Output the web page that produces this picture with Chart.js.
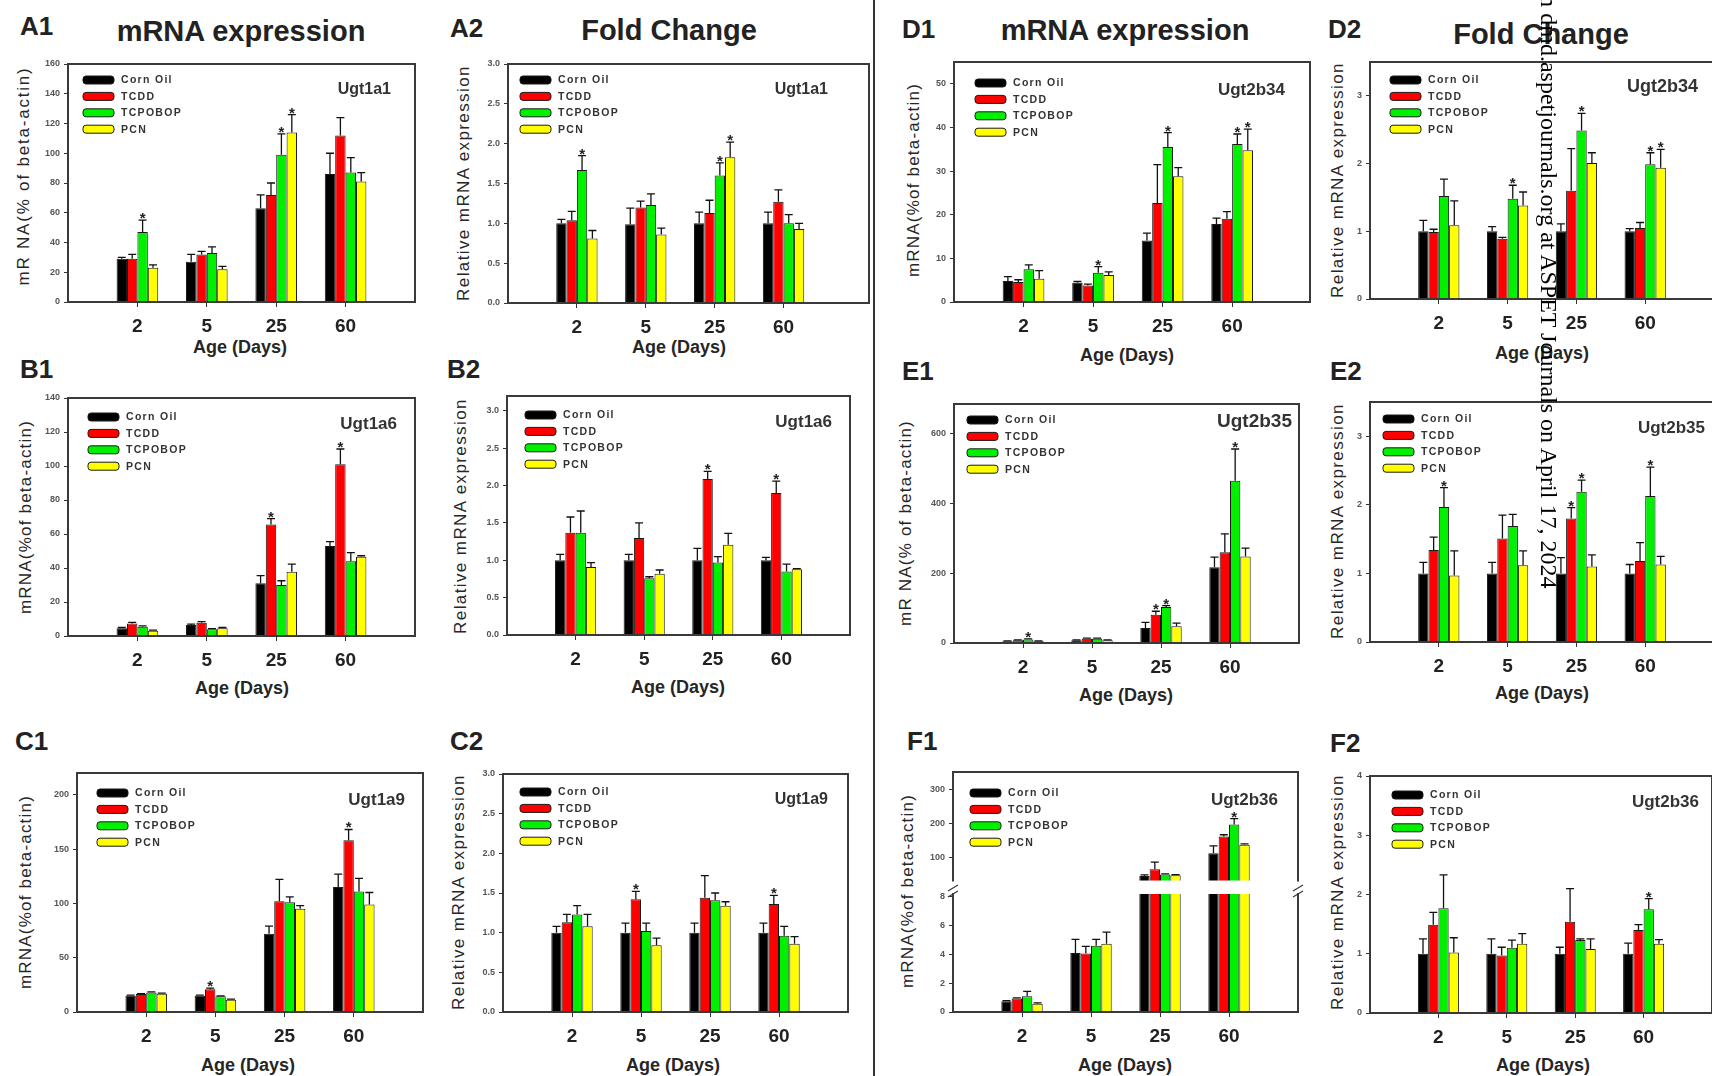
<!DOCTYPE html>
<html><head><meta charset="utf-8"><title>Ugt mRNA expression and fold change</title>
<script src="https://cdn.jsdelivr.net/npm/chart.js@4.4.1/dist/chart.umd.min.js"></script>
<style>
html,body{margin:0;padding:0;background:#fff;}
body{position:relative;width:1712px;height:1076px;overflow:hidden;font-family:"Liberation Sans",Arial,Helvetica,sans-serif;color:#222;}
canvas{position:absolute;}
.t{position:absolute;white-space:nowrap;line-height:1;}
.letter{font-weight:bold;font-size:26px;}
.head{font-weight:bold;font-size:29px;transform:translateX(-50%);}
.yt{font-size:17px;letter-spacing:1.2px;transform:translate(-50%,-50%) rotate(-90deg);color:#262626;}
.yf{letter-spacing:1.4px;}
.xt{font-weight:bold;font-size:18px;transform:translate(-50%,-50%);color:#262626;}
.sep{position:absolute;left:873px;top:0;width:2px;height:1076px;background:#333;}
.wm{position:absolute;left:1561px;top:-168px;font-family:"Liberation Serif","Times New Roman",serif;font-size:24px;line-height:24px;white-space:nowrap;transform-origin:0 0;transform:rotate(90deg);color:#000;z-index:5;}
</style></head><body>

<div class="t letter" style="left:20px;top:13px">A1</div>
<div class="t letter" style="left:450px;top:15px">A2</div>
<div class="t letter" style="left:902px;top:16px">D1</div>
<div class="t letter" style="left:1328px;top:16px">D2</div>
<div class="t letter" style="left:20px;top:356px">B1</div>
<div class="t letter" style="left:447px;top:356px">B2</div>
<div class="t letter" style="left:902px;top:358px">E1</div>
<div class="t letter" style="left:1330px;top:358px">E2</div>
<div class="t letter" style="left:15px;top:728px">C1</div>
<div class="t letter" style="left:450px;top:728px">C2</div>
<div class="t letter" style="left:907px;top:728px">F1</div>
<div class="t letter" style="left:1330px;top:730px">F2</div>

<div class="t head" style="left:241px;top:17px">mRNA expression</div>
<div class="t head" style="left:669px;top:16px">Fold Change</div>
<div class="t head" style="left:1125px;top:16px">mRNA expression</div>
<div class="t head" style="left:1541px;top:20px">Fold Change</div>

<div class="t yt" style="left:23px;top:176px;letter-spacing:1.8px">mR NA(% of beta-actin)</div>
<div class="t yt yf" style="left:463px;top:183px">Relative mRNA expression</div>
<div class="t yt" style="left:25px;top:517px">mRNA(%of beta-actin)</div>
<div class="t yt yf" style="left:460px;top:516px">Relative mRNA expression</div>
<div class="t yt" style="left:25px;top:892px">mRNA(%of beta-actin)</div>
<div class="t yt yf" style="left:458px;top:892px">Relative mRNA expression</div>
<div class="t yt" style="left:913px;top:180px">mRNA(%of beta-actin)</div>
<div class="t yt yf" style="left:1337px;top:180px">Relative mRNA expression</div>
<div class="t yt" style="left:905px;top:523px">mR NA(% of beta-actin)</div>
<div class="t yt yf" style="left:1337px;top:521px">Relative mRNA expression</div>
<div class="t yt" style="left:907px;top:891px">mRNA(%of beta-actin)</div>
<div class="t yt yf" style="left:1337px;top:892px">Relative mRNA expression</div>

<div class="t xt" style="left:240px;top:347px">Age (Days)</div>
<div class="t xt" style="left:679px;top:347px">Age (Days)</div>
<div class="t xt" style="left:1127px;top:355px">Age (Days)</div>
<div class="t xt" style="left:1542px;top:353px">Age (Days)</div>
<div class="t xt" style="left:242px;top:688px">Age (Days)</div>
<div class="t xt" style="left:678px;top:687px">Age (Days)</div>
<div class="t xt" style="left:1126px;top:695px">Age (Days)</div>
<div class="t xt" style="left:1542px;top:693px">Age (Days)</div>
<div class="t xt" style="left:248px;top:1065px">Age (Days)</div>
<div class="t xt" style="left:673px;top:1065px">Age (Days)</div>
<div class="t xt" style="left:1125px;top:1065px">Age (Days)</div>
<div class="t xt" style="left:1543px;top:1065px">Age (Days)</div>

<div class="sep"></div>
<div class="wm">Downloaded from dmd.aspetjournals.org at ASPET Journals on April 17, 2024</div>

<script>
// ---------- shared categories ----------
const AGES = ['2', '5', '25', '60'];
const TREATMENTS = ['Corn Oil', 'TCDD', 'TCPOBOP', 'PCN'];

// ---------- A1  Ugt1a1 mRNA (% of beta-actin) ----------
const A1_cornOil = [29, 27, 63, 86];
const A1_tcdd    = [29, 32, 72, 112];
const A1_tcpobop = [47, 33, 99, 87];
const A1_pcn     = [23, 22, 114, 81];
const A1_sem     = [[1, 5, 9, 14], [3, 2, 8, 12], [8, 4, 14, 10], [2, 2, 12, 6]];
const A1_stars   = [[2, 0], [2, 2], [3, 2]];
const A1_yTicks  = [0, 20, 40, 60, 80, 100, 120, 140, 160];

// ---------- A2  Ugt1a1 fold change ----------
const A2_cornOil = [1.0, 0.99, 1.0, 1.0];
const A2_tcdd    = [1.04, 1.2, 1.13, 1.27];
const A2_tcpobop = [1.67, 1.23, 1.6, 1.0];
const A2_pcn     = [0.81, 0.86, 1.83, 0.93];
const A2_sem     = [[0.05, 0.2, 0.14, 0.14], [0.11, 0.08, 0.16, 0.15], [0.18, 0.14, 0.16, 0.11], [0.1, 0.08, 0.19, 0.07]];
const A2_stars   = [[2, 0], [2, 2], [3, 2]];
const A2_yTicks  = [0, 0.5, 1.0, 1.5, 2.0, 2.5, 3.0];

// ---------- B1  Ugt1a6 mRNA ----------
const B1_cornOil = [4.5, 6.5, 31, 53];
const B1_tcdd    = [7.4, 7.8, 65.6, 101];
const B1_tcpobop = [5.5, 3.9, 30, 44];
const B1_pcn     = [3.1, 4.5, 37.8, 46.6];
const B1_sem     = [[0.5, 0.5, 4.5, 2.5], [0.6, 0.6, 3.4, 9], [0.5, 0.4, 2.5, 5], [0.4, 0.5, 4.5, 0.6]];
const B1_stars   = [[1, 2], [1, 3]];
const B1_yTicks  = [0, 20, 40, 60, 80, 100, 120, 140];

// ---------- B2  Ugt1a6 fold change ----------
const B2_cornOil = [1.0, 1.0, 1.0, 1.0];
const B2_tcdd    = [1.37, 1.3, 2.09, 1.9];
const B2_tcpobop = [1.37, 0.76, 0.97, 0.85];
const B2_pcn     = [0.91, 0.82, 1.21, 0.88];
const B2_sem     = [[0.08, 0.08, 0.16, 0.04], [0.21, 0.2, 0.1, 0.16], [0.29, 0.02, 0.08, 0.1], [0.06, 0.05, 0.15, 0.01]];
const B2_stars   = [[1, 2], [1, 3]];
const B2_yTicks  = [0, 0.5, 1.0, 1.5, 2.0, 2.5, 3.0];

// ---------- C1  Ugt1a9 mRNA ----------
const C1_cornOil = [15, 15, 72, 115];
const C1_tcdd    = [16.5, 21, 102, 158];
const C1_tcpobop = [18, 14.4, 101, 111];
const C1_pcn     = [16.8, 11.3, 95, 99];
const C1_sem     = [[0.5, 0.5, 7, 12], [0.5, 1, 20, 10], [0.5, 0.5, 5, 12], [0.5, 0.5, 3, 11]];
const C1_stars   = [[1, 1], [1, 3]];
const C1_yTicks  = [0, 50, 100, 150, 200];

// ---------- C2  Ugt1a9 fold change ----------
const C2_cornOil = [1.0, 1.0, 1.0, 1.0];
const C2_tcdd    = [1.13, 1.42, 1.44, 1.36];
const C2_tcpobop = [1.23, 1.02, 1.41, 0.96];
const C2_pcn     = [1.08, 0.84, 1.34, 0.86];
const C2_sem     = [[0.08, 0.12, 0.12, 0.12], [0.1, 0.1, 0.28, 0.11], [0.11, 0.1, 0.09, 0.12], [0.15, 0.09, 0.05, 0.09]];
const C2_stars   = [[1, 1], [1, 3]];
const C2_yTicks  = [0, 0.5, 1.0, 1.5, 2.0, 2.5, 3.0];

// ---------- D1  Ugt2b34 mRNA ----------
const D1_cornOil = [4.8, 4.4, 14.1, 17.9];
const D1_tcdd    = [4.6, 3.8, 22.7, 19.1];
const D1_tcpobop = [7.5, 6.7, 35.5, 36.2];
const D1_pcn     = [5.3, 6.2, 28.8, 34.8];
const D1_sem     = [[1, 0.3, 1.7, 1.3], [0.5, 0.3, 8.8, 1.6], [1, 1.4, 3.3, 2.3], [1.9, 0.7, 2, 4.8]];
const D1_stars   = [[2, 1], [2, 2], [2, 3], [3, 3]];
const D1_yTicks  = [0, 10, 20, 30, 40, 50];

// ---------- D2  Ugt2b34 fold change ----------
const D2_cornOil = [1.0, 1.0, 1.0, 1.0];
const D2_tcdd    = [0.99, 0.89, 1.6, 1.05];
const D2_tcpobop = [1.52, 1.48, 2.49, 1.99];
const D2_pcn     = [1.09, 1.38, 2.01, 1.94];
const D2_sem     = [[0.16, 0.07, 0.11, 0.04], [0.04, 0.02, 0.62, 0.08], [0.25, 0.2, 0.25, 0.17], [0.36, 0.2, 0.15, 0.27]];
const D2_stars   = [[2, 1], [2, 2], [2, 3], [3, 3]];
const D2_yTicks  = [0, 1, 2, 3];

// ---------- E1  Ugt2b35 mRNA ----------
const E1_cornOil = [5, 8, 43, 217];
const E1_tcdd    = [8, 12, 81, 260];
const E1_tcpobop = [10, 12, 103, 465];
const E1_pcn     = [5, 8, 48, 248];
const E1_sem     = [[1, 1, 16, 29], [1, 2, 10, 53], [2, 2, 4, 91], [1, 1, 9, 24]];
const E1_stars   = [[2, 0], [1, 2], [2, 2], [2, 3]];
const E1_yTicks  = [0, 200, 400, 600];

// ---------- E2  Ugt2b35 fold change ----------
const E2_cornOil = [1.0, 1.0, 1.0, 1.0];
const E2_tcdd    = [1.34, 1.51, 1.8, 1.18];
const E2_tcpobop = [1.97, 1.69, 2.19, 2.13];
const E2_pcn     = [0.97, 1.12, 1.1, 1.13];
const E2_sem     = [[0.16, 0.16, 0.23, 0.13], [0.19, 0.34, 0.16, 0.27], [0.28, 0.17, 0.17, 0.42], [0.36, 0.21, 0.17, 0.12]];
const E2_stars   = [[2, 0], [1, 2], [2, 2], [2, 3]];
const E2_yTicks  = [0, 1, 2, 3];

// ---------- F1  Ugt2b36 mRNA (broken axis) ----------
const F1_cornOil = [0.74, 4.1, 45, 112];
const F1_tcdd    = [0.93, 4.06, 65, 162];
const F1_tcpobop = [1.09, 4.6, 49, 197];
const F1_pcn     = [0.58, 4.75, 47, 137];
const F1_sem     = [[0.05, 0.95, 3, 22], [0.05, 0.5, 21, 5], [0.35, 0.45, 2, 18], [0.05, 0.8, 2, 3]];
const F1_stars   = [[2, 3]];
const F1_yTicksUpper = [100, 200, 300];
const F1_yTicksLower = [0, 2, 4, 6, 8];

// ---------- F2  Ugt2b36 fold change ----------
const F2_cornOil = [1.0, 1.0, 1.0, 1.0];
const F2_tcdd    = [1.49, 0.97, 1.54, 1.4];
const F2_tcpobop = [1.77, 1.1, 1.23, 1.75];
const F2_pcn     = [1.02, 1.17, 1.08, 1.17];
const F2_sem     = [[0.25, 0.25, 0.11, 0.18], [0.21, 0.14, 0.56, 0.09], [0.56, 0.13, 0.02, 0.18], [0.25, 0.17, 0.17, 0.07]];
const F2_stars   = [[2, 3]];
const F2_yTicks  = [0, 1, 2, 3, 4];

// ---------- styling / layout ----------
const FONT = '"Liberation Sans", Arial, Helvetica, sans-serif';
const COLORS = ['#000000', '#ff0000', '#00f000', '#ffff00'];
const YW = 46, PT = 14, PR = 6, XH = 44;

const PANELS = [
  {gene: 'Ugt1a1', series: [A1_cornOil, A1_tcdd, A1_tcpobop, A1_pcn], sem: A1_sem, stars: A1_stars, dec: 0,
   parts: [{box: [68, 64, 415, 302], yMin: 0, yMax: 160, yTicks: A1_yTicks}], xMax: 5, leg: [15, 16], geneOff: [24, 26, 16]},
  {gene: 'Ugt1a1', series: [A2_cornOil, A2_tcdd, A2_tcpobop, A2_pcn], sem: A2_sem, stars: A2_stars, dec: 1,
   parts: [{box: [508, 64, 869, 303], yMin: 0, yMax: 3.0, yTicks: A2_yTicks}], xMax: 5.24, leg: [12, 16], geneOff: [41, 26, 16]},
  {gene: 'Ugt1a6', series: [B1_cornOil, B1_tcdd, B1_tcpobop, B1_pcn], sem: B1_sem, stars: B1_stars, dec: 0,
   parts: [{box: [68, 398, 415, 636], yMin: 0, yMax: 140, yTicks: B1_yTicks}], xMax: 5, leg: [20, 19], geneOff: [18, 26, 17]},
  {gene: 'Ugt1a6', series: [B2_cornOil, B2_tcdd, B2_tcpobop, B2_pcn], sem: B2_sem, stars: B2_stars, dec: 1,
   parts: [{box: [507, 396, 850, 635], yMin: 0, yMax: 3.2, yTicks: B2_yTicks}], xMax: 5, leg: [18, 19], geneOff: [18, 26, 17]},
  {gene: 'Ugt1a9', series: [C1_cornOil, C1_tcdd, C1_tcpobop, C1_pcn], sem: C1_sem, stars: C1_stars, dec: 0,
   parts: [{box: [77, 773, 423, 1012], yMin: 0, yMax: 220, yTicks: C1_yTicks}], xMax: 5, leg: [20, 20], geneOff: [18, 27, 17]},
  {gene: 'Ugt1a9', series: [C2_cornOil, C2_tcdd, C2_tcpobop, C2_pcn], sem: C2_sem, stars: C2_stars, dec: 1,
   parts: [{box: [503, 774, 848, 1012], yMin: 0, yMax: 3.0, yTicks: C2_yTicks}], xMax: 5, leg: [17, 18], geneOff: [20, 26, 16]},
  {gene: 'Ugt2b34', series: [D1_cornOil, D1_tcdd, D1_tcpobop, D1_pcn], sem: D1_sem, stars: D1_stars, dec: 0,
   parts: [{box: [954, 62, 1310, 302], yMin: 0, yMax: 55, yTicks: D1_yTicks}], xMax: 5.12, leg: [21, 21], geneOff: [25, 28, 17]},
  {gene: 'Ugt2b34', series: [D2_cornOil, D2_tcdd, D2_tcpobop, D2_pcn], sem: D2_sem, stars: D2_stars, dec: 0,
   parts: [{box: [1370, 62, 1714, 299], yMin: 0, yMax: 3.5, yTicks: D2_yTicks}], xMax: 5, leg: [20, 18], geneOff: [16, 25, 18]},
  {gene: 'Ugt2b35', series: [E1_cornOil, E1_tcdd, E1_tcpobop, E1_pcn], sem: E1_sem, stars: E1_stars, dec: 0,
   parts: [{box: [954, 404, 1299, 643], yMin: 0, yMax: 685, yTicks: E1_yTicks}], xMax: 5, leg: [13, 16], geneOff: [7, 18, 19]},
  {gene: 'Ugt2b35', series: [E2_cornOil, E2_tcdd, E2_tcpobop, E2_pcn], sem: E2_sem, stars: E2_stars, dec: 0,
   parts: [{box: [1370, 402, 1714, 642], yMin: 0, yMax: 3.5, yTicks: E2_yTicks}], xMax: 5, leg: [13, 17], geneOff: [9, 26, 17]},
  {gene: 'Ugt2b36', series: [F1_cornOil, F1_tcdd, F1_tcpobop, F1_pcn], sem: F1_sem, stars: F1_stars, dec: 0,
   parts: [
     {box: [953, 772, 1298, 888], yMin: 31, yMax: 353, yTicks: F1_yTicksUpper, keepMin: 31, showX: false, sides: 'tlr'},
     {box: [953, 894, 1298, 1012], yMin: 0, yMax: 8.2, yTicks: F1_yTicksLower, noLegend: true, sides: 'blr', breakMarks: true, clip: 0}
   ], xMax: 5, leg: [17, 21], geneOff: [20, 28, 17]},
  {gene: 'Ugt2b36', series: [F2_cornOil, F2_tcdd, F2_tcpobop, F2_pcn], sem: F2_sem, stars: F2_stars, dec: 0,
   parts: [{box: [1370, 776, 1712, 1013], yMin: 0, yMax: 4, yTicks: F2_yTicks}], xMax: 5, leg: [22, 19], geneOff: [13, 26, 17]}
];

// ---------- plugins ----------
const framePlugin = {
  id: 'frame',
  afterDraw(chart, args, o) {
    const a = chart.chartArea, ctx = chart.ctx, s = o.sides || 'tlrb';
    ctx.save();
    ctx.strokeStyle = '#3a3a3a'; ctx.lineWidth = 2; ctx.lineCap = 'square';
    ctx.beginPath();
    if (s.includes('t')) { ctx.moveTo(a.left, a.top); ctx.lineTo(a.right, a.top); }
    if (s.includes('b')) { ctx.moveTo(a.left, a.bottom); ctx.lineTo(a.right, a.bottom); }
    if (s.includes('l')) { ctx.moveTo(a.left, a.top); ctx.lineTo(a.left, a.bottom); }
    if (s.includes('r')) { ctx.moveTo(a.right, a.top); ctx.lineTo(a.right, a.bottom); }
    ctx.stroke();
    if (o.breakMarks) {
      ctx.lineWidth = 1.3; ctx.lineCap = 'butt';
      [a.left, a.right].forEach(x => {
        ctx.beginPath();
        ctx.moveTo(x - 5, a.top + 3); ctx.lineTo(x + 5, a.top - 3);
        ctx.moveTo(x - 5, a.top - 3); ctx.lineTo(x + 5, a.top - 9);
        ctx.stroke();
      });
    }
    ctx.restore();
  }
};

const errPlugin = {
  id: 'errs',
  afterDatasetsDraw(chart) {
    const ctx = chart.ctx, ys = chart.scales.y;
    ctx.save();
    chart.data.datasets.forEach((ds, di) => {
      const meta = chart.getDatasetMeta(di);
      meta.data.forEach((bar, j) => {
        const v = ds.data[j].y;
        if (v == null || v + ds.err[j] > ys.max) return;
        const top = ys.getPixelForValue(v + ds.err[j]);
        ctx.strokeStyle = '#111'; ctx.lineWidth = 1.3;
        ctx.beginPath();
        ctx.moveTo(bar.x, bar.y); ctx.lineTo(bar.x, top);
        ctx.moveTo(bar.x - 4, top); ctx.lineTo(bar.x + 4, top);
        ctx.stroke();
        if (ds.sig[j]) {
          ctx.fillStyle = '#222';
          ctx.font = 'bold 15px ' + FONT;
          ctx.textAlign = 'center'; ctx.textBaseline = 'alphabetic';
          ctx.fillText('*', bar.x, top + 3);
        }
      });
    });
    ctx.restore();
  }
};

const legendPlugin = {
  id: 'insideLegend',
  afterDraw(chart, args, o) {
    if (!o.show) return;
    const ctx = chart.ctx, a = chart.chartArea;
    ctx.save();
    chart.data.datasets.forEach((ds, i) => {
      const x = a.left + o.dx, y = a.top + o.dy + i * 16.4;
      ctx.fillStyle = ds.backgroundColor; ctx.strokeStyle = '#1a1a1a'; ctx.lineWidth = 1;
      ctx.beginPath();
      if (ctx.roundRect) ctx.roundRect(x, y - 4, 31, 8, 3); else ctx.rect(x, y - 4, 31, 8);
      ctx.fill(); ctx.stroke();
      ctx.fillStyle = '#333';
      ctx.font = 'bold 10.5px ' + FONT;
      if ('letterSpacing' in ctx) ctx.letterSpacing = '1.3px';
      ctx.textAlign = 'left'; ctx.textBaseline = 'middle';
      ctx.fillText(ds.label, x + 38, y + 0.5);
      if ('letterSpacing' in ctx) ctx.letterSpacing = '0px';
    });
    ctx.restore();
  }
};

const genePlugin = {
  id: 'geneLabel',
  afterDraw(chart, args, o) {
    if (!o.text) return;
    const ctx = chart.ctx, a = chart.chartArea;
    ctx.save();
    ctx.fillStyle = '#333';
    ctx.font = 'bold ' + o.size + 'px ' + FONT;
    ctx.textAlign = 'right'; ctx.textBaseline = 'middle';
    ctx.fillText(o.text, a.right - o.dx, a.top + o.dy);
    ctx.restore();
  }
};

// ---------- build ----------
function build(p, part) {
  const [L, T, R, B] = part.box;
  const showX = part.showX !== false;
  const xh = showX ? XH : 0;
  const padB = showX ? 0 : 2;
  const cv = document.createElement('canvas');
  cv.width = Math.round(R - L + YW + PR);
  cv.height = Math.round(B - T + PT + xh + padB);
  cv.style.left = (L - YW) + 'px';
  cv.style.top = (T - PT) + 'px';
  document.body.appendChild(cv);

  const keepMin = part.keepMin != null ? part.keepMin : -Infinity;
  const datasets = p.series.map((vals, di) => ({
    label: TREATMENTS[di],
    data: vals.map((v, i) => ({x: i + 1, y: v >= keepMin ? v : null})),
    err: p.sem[di],
    sig: AGES.map((_, j) => p.stars.some(([t, a]) => t === di && a === j)),
    backgroundColor: COLORS[di],
    borderColor: '#1a1a1a',
    borderWidth: 1,
    borderSkipped: 'start',
    categoryPercentage: 0.6,
    barPercentage: 1.0,
    clip: part.clip
  }));

  new Chart(cv, {
    type: 'bar',
    data: {datasets},
    options: {
      responsive: false, animation: false, devicePixelRatio: 1,
      layout: {padding: {top: PT, right: PR, left: 0, bottom: padB}},
      plugins: {
        legend: {display: false}, tooltip: {enabled: false},
        frame: {sides: part.sides || 'tlrb', breakMarks: !!part.breakMarks},
        insideLegend: {show: !part.noLegend, dx: p.leg[0], dy: p.leg[1]},
        geneLabel: {text: part.noLegend ? '' : p.gene, dx: p.geneOff[0], dy: p.geneOff[1], size: p.geneOff[2]}
      },
      scales: {
        x: {
          type: 'linear', min: 0, max: p.xMax, offset: false, display: showX,
          grid: {display: true, drawOnChartArea: false, drawTicks: true, tickLength: 5, color: '#333', offset: false},
          border: {display: false},
          ticks: {autoSkip: false, maxRotation: 0, padding: 8, color: '#222',
                  font: {family: FONT, size: 19, weight: 'bold'},
                  callback: v => AGES[v - 1] !== undefined ? AGES[v - 1] : ''},
          afterBuildTicks: s => { s.ticks = AGES.map((_, i) => ({value: i + 1})); },
          afterFit: s => { s.height = showX ? XH : 0; }
        },
        y: {
          type: 'linear', min: part.yMin, max: part.yMax,
          grid: {display: true, drawOnChartArea: false, drawTicks: true, tickLength: 4, color: '#333'},
          border: {display: false},
          ticks: {autoSkip: false, padding: 4, color: '#555',
                  font: {family: FONT, size: 9, weight: 'bold'},
                  callback: v => p.dec ? Number(v).toFixed(p.dec) : String(v)},
          afterBuildTicks: s => { s.ticks = part.yTicks.map(v => ({value: v})); },
          afterFit: s => { s.width = YW; }
        }
      }
    },
    plugins: [framePlugin, errPlugin, legendPlugin, genePlugin]
  });
}

PANELS.forEach(p => p.parts.forEach(part => build(p, part)));
</script>
</body></html>
